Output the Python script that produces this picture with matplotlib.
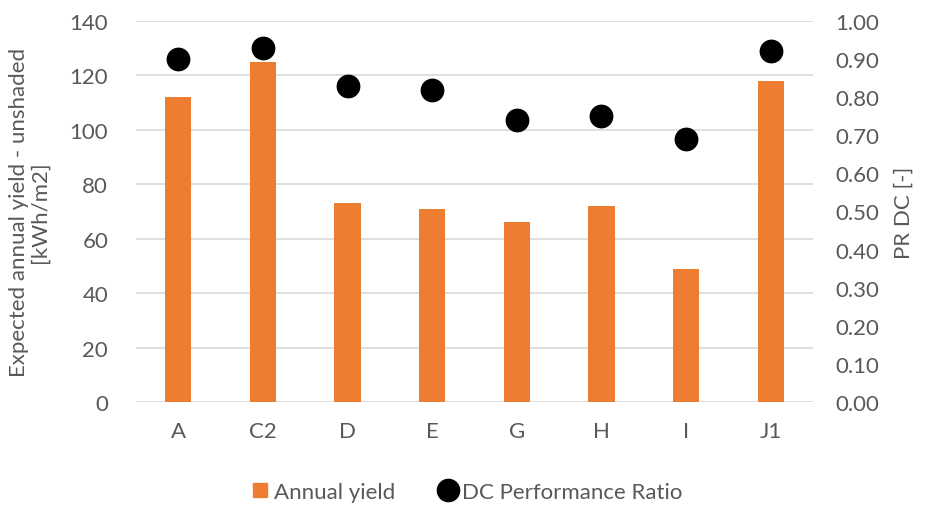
import numpy as np
import matplotlib.pyplot as plt
from matplotlib.lines import Line2D

plt.rcParams['font.family'] = ['Lato', 'DejaVu Sans']

sites = ['A', 'C2', 'D', 'E', 'G', 'H', 'I', 'J1']
annual_yield = [112, 125, 73, 71, 66, 72, 49, 118]
pr_dc = [0.90, 0.93, 0.83, 0.82, 0.74, 0.75, 0.69, 0.92]

orange = '#ed7d31'
grey_text = '#595959'
grid_col = '#d9d9d9'
fs = 16

fig = plt.figure(figsize=(9.25, 5.06), dpi=100)
ax = fig.add_axes([0.147, 0.2036, 0.732, 0.7529])
x = np.arange(len(sites))

ax.bar(x, annual_yield, width=0.31, color=orange, zorder=2)
ax.set_xlim(-0.5, len(sites) - 0.5)
ax.set_ylim(0, 140)
ax.set_yticks(np.arange(0, 141, 20))
ax.set_xticks(x)
ax.set_xticklabels(sites)
ax.grid(axis='y', color=grid_col, linewidth=1.2, zorder=0)
ax.set_axisbelow(True)
for s in ax.spines.values():
    s.set_visible(False)
ax.tick_params(axis='y', length=0, labelsize=fs, colors=grey_text, pad=20)
ax.tick_params(axis='x', length=0, labelsize=fs, colors=grey_text, pad=14)
ax.set_ylabel('Expected annual yield - unshaded\n[kWh/m2]', fontsize=fs,
              color=grey_text, labelpad=14, linespacing=1.1)

ax2 = ax.twinx()
ax2.scatter(x, pr_dc, s=260, color='black', zorder=3)
ax2.set_ylim(0, 1.0)
ticks2 = np.arange(0, 1.01, 0.1)
ax2.set_yticks(ticks2)
ax2.set_yticklabels([f'{v:.2f}' for v in ticks2])
for s in ax2.spines.values():
    s.set_visible(False)
ax2.tick_params(length=0, labelsize=fs, colors=grey_text, pad=16)
ax2.set_ylabel('PR DC [-]', fontsize=fs, color=grey_text, labelpad=10)

handles = [
    Line2D([], [], marker='s', linestyle='none', markersize=10,
           markerfacecolor=orange, markeredgecolor=orange),
    Line2D([], [], marker='o', linestyle='none', markersize=16,
           markerfacecolor='black', markeredgecolor='black'),
]
fig.legend(handles, ['Annual yield', 'DC Performance Ratio'],
           loc='center', bbox_to_anchor=(0.505, 0.026),
           ncol=2, frameon=False, fontsize=fs, labelcolor=grey_text,
           handlelength=0.7, handletextpad=0.3, columnspacing=2.0)

fig.savefig('out.png', dpi=100)
